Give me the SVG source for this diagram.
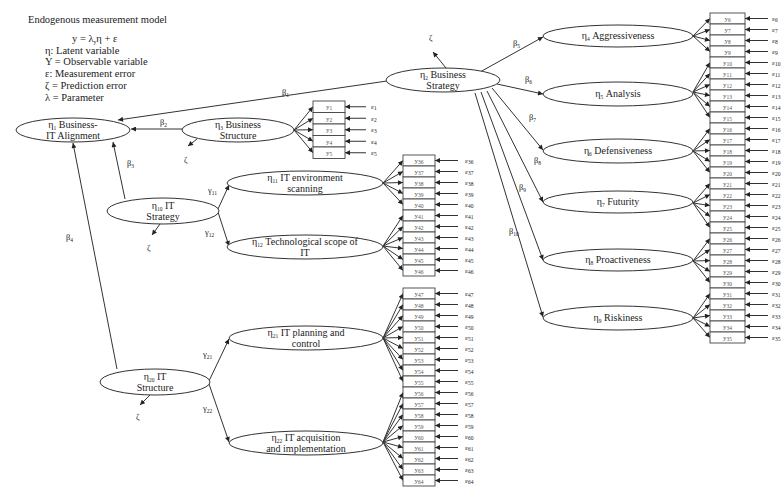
<svg xmlns="http://www.w3.org/2000/svg" width="784" height="496" viewBox="0 0 784 496">
<defs>
<marker id="a" viewBox="0 0 10 10" refX="10" refY="5" markerWidth="6" markerHeight="5" markerUnits="userSpaceOnUse" orient="auto"><path d="M0,0 L10,5 L0,10 z" fill="#222"/></marker>
<style>
text{font-family:"Liberation Serif",serif;fill:#222}
.n{font-size:10px;text-anchor:middle}
.el{fill:#fff;stroke:#333;stroke-width:1}
.bx rect{fill:#fff;stroke:#444;stroke-width:.9}
.bx text{font-size:7px;text-anchor:middle;fill:#555}
.s{font-size:5.5px}
.cn line{stroke:#333;stroke-width:1;marker-end:url(#a)}
.lb{font-size:8.5px}
.er{font-size:7px;fill:#444}
.lg{font-size:10.5px}
</style>
</defs>
<rect width="784" height="496" fill="#fff"/>
<g id="legend">
<text class="lg" x="28" y="23" textLength="139">Endogenous measurement model</text>
<text class="lg" x="72" y="42">y = λ<tspan class="s" dy="2">y</tspan><tspan dy="-2">η + ε</tspan></text>
<text class="lg" x="45" y="54">η: Latent variable</text>
<text class="lg" x="45" y="65">Y = Observable variable</text>
<text class="lg" x="45" y="77">ε: Measurement error</text>
<text class="lg" x="45" y="89">ζ = Prediction error</text>
<text class="lg" x="45" y="101">λ = Parameter</text>
</g>
<g id="connectors" class="cn">
<line x1="387" y1="81" x2="118" y2="120"/>
<line x1="182" y1="129" x2="131" y2="129"/>
<line x1="125" y1="199" x2="113" y2="142"/>
<line x1="117" y1="369" x2="73" y2="143"/>
<line x1="446" y1="68" x2="433" y2="52"/>
<line x1="197" y1="139" x2="188" y2="146"/>
<line x1="160" y1="224" x2="152" y2="235"/>
<line x1="150" y1="395" x2="140" y2="405"/>
<line x1="480" y1="72" x2="543" y2="37"/>
<line x1="497" y1="84" x2="543" y2="94"/>
<line x1="492" y1="88" x2="543" y2="150"/>
<line x1="487" y1="91" x2="543" y2="202"/>
<line x1="481" y1="92" x2="543" y2="260"/>
<line x1="475" y1="93" x2="543" y2="317"/>
<line x1="218" y1="209" x2="229" y2="185"/>
<line x1="218" y1="212" x2="229" y2="246"/>
<line x1="209" y1="381" x2="229" y2="339"/>
<line x1="209" y1="384" x2="229" y2="442"/>
<line x1="294" y1="130" x2="313" y2="106.75"/>
<line x1="294" y1="130" x2="313" y2="118.25"/>
<line x1="294" y1="130" x2="313" y2="129.75"/>
<line x1="294" y1="130" x2="313" y2="141.25"/>
<line x1="294" y1="130" x2="313" y2="152.75"/>
<line x1="693" y1="36" x2="710" y2="18.5"/>
<line x1="693" y1="36" x2="710" y2="29.5"/>
<line x1="693" y1="36" x2="710" y2="40.5"/>
<line x1="693" y1="36" x2="710" y2="51.5"/>
<line x1="693" y1="92" x2="710" y2="62.5"/>
<line x1="693" y1="92" x2="710" y2="73.5"/>
<line x1="693" y1="92" x2="710" y2="84.5"/>
<line x1="693" y1="92" x2="710" y2="95.5"/>
<line x1="693" y1="92" x2="710" y2="106.5"/>
<line x1="693" y1="92" x2="710" y2="117.5"/>
<line x1="693" y1="151" x2="710" y2="128.5"/>
<line x1="693" y1="151" x2="710" y2="139.5"/>
<line x1="693" y1="151" x2="710" y2="150.5"/>
<line x1="693" y1="151" x2="710" y2="161.5"/>
<line x1="693" y1="151" x2="710" y2="172.5"/>
<line x1="693" y1="203" x2="710" y2="183.5"/>
<line x1="693" y1="203" x2="710" y2="194.5"/>
<line x1="693" y1="203" x2="710" y2="205.5"/>
<line x1="693" y1="203" x2="710" y2="216.5"/>
<line x1="693" y1="203" x2="710" y2="227.5"/>
<line x1="693" y1="261" x2="710" y2="238.5"/>
<line x1="693" y1="261" x2="710" y2="249.5"/>
<line x1="693" y1="261" x2="710" y2="260.5"/>
<line x1="693" y1="261" x2="710" y2="271.5"/>
<line x1="693" y1="261" x2="710" y2="282.5"/>
<line x1="693" y1="318" x2="710" y2="293.5"/>
<line x1="693" y1="318" x2="710" y2="304.5"/>
<line x1="693" y1="318" x2="710" y2="315.5"/>
<line x1="693" y1="318" x2="710" y2="326.5"/>
<line x1="693" y1="318" x2="710" y2="337.5"/>
<line x1="383" y1="183" x2="403" y2="160.5"/>
<line x1="383" y1="183" x2="403" y2="171.5"/>
<line x1="383" y1="183" x2="403" y2="182.5"/>
<line x1="383" y1="183" x2="403" y2="193.5"/>
<line x1="383" y1="183" x2="403" y2="204.5"/>
<line x1="383" y1="246" x2="403" y2="215.5"/>
<line x1="383" y1="246" x2="403" y2="226.5"/>
<line x1="383" y1="246" x2="403" y2="237.5"/>
<line x1="383" y1="246" x2="403" y2="248.5"/>
<line x1="383" y1="246" x2="403" y2="259.5"/>
<line x1="383" y1="246" x2="403" y2="270.5"/>
<line x1="383" y1="338" x2="403" y2="293.5"/>
<line x1="383" y1="338" x2="403" y2="304.5"/>
<line x1="383" y1="338" x2="403" y2="315.5"/>
<line x1="383" y1="338" x2="403" y2="326.5"/>
<line x1="383" y1="338" x2="403" y2="337.5"/>
<line x1="383" y1="338" x2="403" y2="348.5"/>
<line x1="383" y1="338" x2="403" y2="359.5"/>
<line x1="383" y1="338" x2="403" y2="370.5"/>
<line x1="383" y1="338" x2="403" y2="381.5"/>
<line x1="383" y1="442" x2="403" y2="392.5"/>
<line x1="383" y1="442" x2="403" y2="403.5"/>
<line x1="383" y1="442" x2="403" y2="414.5"/>
<line x1="383" y1="442" x2="403" y2="425.5"/>
<line x1="383" y1="442" x2="403" y2="436.5"/>
<line x1="383" y1="442" x2="403" y2="447.5"/>
<line x1="383" y1="442" x2="403" y2="458.5"/>
<line x1="383" y1="442" x2="403" y2="469.5"/>
<line x1="383" y1="442" x2="403" y2="480.5"/>
<line x1="366" y1="106.75" x2="345" y2="106.75"/>
<line x1="366" y1="118.25" x2="345" y2="118.25"/>
<line x1="366" y1="129.75" x2="345" y2="129.75"/>
<line x1="366" y1="141.25" x2="345" y2="141.25"/>
<line x1="366" y1="152.75" x2="345" y2="152.75"/>
<line x1="768" y1="18.5" x2="745" y2="18.5"/>
<line x1="768" y1="29.5" x2="745" y2="29.5"/>
<line x1="768" y1="40.5" x2="745" y2="40.5"/>
<line x1="768" y1="51.5" x2="745" y2="51.5"/>
<line x1="768" y1="62.5" x2="745" y2="62.5"/>
<line x1="768" y1="73.5" x2="745" y2="73.5"/>
<line x1="768" y1="84.5" x2="745" y2="84.5"/>
<line x1="768" y1="95.5" x2="745" y2="95.5"/>
<line x1="768" y1="106.5" x2="745" y2="106.5"/>
<line x1="768" y1="117.5" x2="745" y2="117.5"/>
<line x1="768" y1="128.5" x2="745" y2="128.5"/>
<line x1="768" y1="139.5" x2="745" y2="139.5"/>
<line x1="768" y1="150.5" x2="745" y2="150.5"/>
<line x1="768" y1="161.5" x2="745" y2="161.5"/>
<line x1="768" y1="172.5" x2="745" y2="172.5"/>
<line x1="768" y1="183.5" x2="745" y2="183.5"/>
<line x1="768" y1="194.5" x2="745" y2="194.5"/>
<line x1="768" y1="205.5" x2="745" y2="205.5"/>
<line x1="768" y1="216.5" x2="745" y2="216.5"/>
<line x1="768" y1="227.5" x2="745" y2="227.5"/>
<line x1="768" y1="238.5" x2="745" y2="238.5"/>
<line x1="768" y1="249.5" x2="745" y2="249.5"/>
<line x1="768" y1="260.5" x2="745" y2="260.5"/>
<line x1="768" y1="271.5" x2="745" y2="271.5"/>
<line x1="768" y1="282.5" x2="745" y2="282.5"/>
<line x1="768" y1="293.5" x2="745" y2="293.5"/>
<line x1="768" y1="304.5" x2="745" y2="304.5"/>
<line x1="768" y1="315.5" x2="745" y2="315.5"/>
<line x1="768" y1="326.5" x2="745" y2="326.5"/>
<line x1="768" y1="337.5" x2="745" y2="337.5"/>
<line x1="458" y1="160.5" x2="435" y2="160.5"/>
<line x1="458" y1="171.5" x2="435" y2="171.5"/>
<line x1="458" y1="182.5" x2="435" y2="182.5"/>
<line x1="458" y1="193.5" x2="435" y2="193.5"/>
<line x1="458" y1="204.5" x2="435" y2="204.5"/>
<line x1="458" y1="215.5" x2="435" y2="215.5"/>
<line x1="458" y1="226.5" x2="435" y2="226.5"/>
<line x1="458" y1="237.5" x2="435" y2="237.5"/>
<line x1="458" y1="248.5" x2="435" y2="248.5"/>
<line x1="458" y1="259.5" x2="435" y2="259.5"/>
<line x1="458" y1="270.5" x2="435" y2="270.5"/>
<line x1="458" y1="293.5" x2="435" y2="293.5"/>
<line x1="458" y1="304.5" x2="435" y2="304.5"/>
<line x1="458" y1="315.5" x2="435" y2="315.5"/>
<line x1="458" y1="326.5" x2="435" y2="326.5"/>
<line x1="458" y1="337.5" x2="435" y2="337.5"/>
<line x1="458" y1="348.5" x2="435" y2="348.5"/>
<line x1="458" y1="359.5" x2="435" y2="359.5"/>
<line x1="458" y1="370.5" x2="435" y2="370.5"/>
<line x1="458" y1="381.5" x2="435" y2="381.5"/>
<line x1="458" y1="392.5" x2="435" y2="392.5"/>
<line x1="458" y1="403.5" x2="435" y2="403.5"/>
<line x1="458" y1="414.5" x2="435" y2="414.5"/>
<line x1="458" y1="425.5" x2="435" y2="425.5"/>
<line x1="458" y1="436.5" x2="435" y2="436.5"/>
<line x1="458" y1="447.5" x2="435" y2="447.5"/>
<line x1="458" y1="458.5" x2="435" y2="458.5"/>
<line x1="458" y1="469.5" x2="435" y2="469.5"/>
<line x1="458" y1="480.5" x2="435" y2="480.5"/>
</g>
<g id="connector-labels" class="lb">
<text x="282" y="95">β<tspan class="s" dy="2">1</tspan></text>
<text x="160" y="125">β<tspan class="s" dy="2">2</tspan></text>
<text x="127" y="166">β<tspan class="s" dy="2">3</tspan></text>
<text x="66" y="240">β<tspan class="s" dy="2">4</tspan></text>
<text x="429" y="41">ζ</text>
<text x="184" y="163">ζ</text>
<text x="147" y="251">ζ</text>
<text x="136" y="420">ζ</text>
<text x="513" y="46">β<tspan class="s" dy="2">5</tspan></text>
<text x="525" y="82">β<tspan class="s" dy="2">6</tspan></text>
<text x="529" y="120">β<tspan class="s" dy="2">7</tspan></text>
<text x="534" y="163">β<tspan class="s" dy="2">8</tspan></text>
<text x="519" y="190">β<tspan class="s" dy="2">9</tspan></text>
<text x="509" y="234">β<tspan class="s" dy="2">10</tspan></text>
<text x="208" y="193">γ<tspan class="s" dy="2">11</tspan></text>
<text x="205" y="235">γ<tspan class="s" dy="2">12</tspan></text>
<text x="203" y="357">γ<tspan class="s" dy="2">21</tspan></text>
<text x="203" y="411">γ<tspan class="s" dy="2">22</tspan></text>
</g>
<g id="n1"><ellipse class="el" cx="73" cy="130" rx="57" ry="12"/><text class="n" x="73" y="128">η<tspan class="s" dy="2">1</tspan><tspan dy="-2"> Business-</tspan></text><text class="n" x="73" y="139">IT Alignment</text></g>
<g id="n2"><ellipse class="el" cx="443" cy="80" rx="57" ry="12"/><text class="n" x="443" y="78">η<tspan class="s" dy="2">2</tspan><tspan dy="-2"> Business</tspan></text><text class="n" x="443" y="89">Strategy</text></g>
<g id="n3"><ellipse class="el" cx="238" cy="130" rx="56" ry="12"/><text class="n" x="238" y="128">η<tspan class="s" dy="2">3</tspan><tspan dy="-2"> Business</tspan></text><text class="n" x="238" y="139">Structure</text></g>
<g id="n4"><ellipse class="el" cx="618" cy="36" rx="75" ry="11"/><text class="n" x="618" y="39">η<tspan class="s" dy="2">4</tspan><tspan dy="-2"> Aggressiveness</tspan></text></g>
<g id="n5"><ellipse class="el" cx="618" cy="94" rx="75" ry="12"/><text class="n" x="618" y="97">η<tspan class="s" dy="2">5</tspan><tspan dy="-2"> Analysis</tspan></text></g>
<g id="n6"><ellipse class="el" cx="618" cy="151" rx="75" ry="12"/><text class="n" x="618" y="154">η<tspan class="s" dy="2">6</tspan><tspan dy="-2"> Defensiveness</tspan></text></g>
<g id="n7"><ellipse class="el" cx="618" cy="202" rx="75" ry="11"/><text class="n" x="618" y="205">η<tspan class="s" dy="2">7</tspan><tspan dy="-2"> Futurity</tspan></text></g>
<g id="n8"><ellipse class="el" cx="618" cy="260" rx="75" ry="11"/><text class="n" x="618" y="263">η<tspan class="s" dy="2">8</tspan><tspan dy="-2"> Proactiveness</tspan></text></g>
<g id="n9"><ellipse class="el" cx="618" cy="318" rx="75" ry="12"/><text class="n" x="618" y="321">η<tspan class="s" dy="2">9</tspan><tspan dy="-2"> Riskiness</tspan></text></g>
<g id="n10"><ellipse class="el" cx="163" cy="211" rx="56" ry="13"/><text class="n" x="163" y="209">η<tspan class="s" dy="2">10</tspan><tspan dy="-2"> IT</tspan></text><text class="n" x="163" y="220">Strategy</text></g>
<g id="n11"><ellipse class="el" cx="305" cy="183" rx="78" ry="12"/><text class="n" x="305" y="181">η<tspan class="s" dy="2">11</tspan><tspan dy="-2"> IT environment</tspan></text><text class="n" x="305" y="192">scanning</text></g>
<g id="n12"><ellipse class="el" cx="305" cy="247" rx="78" ry="12"/><text class="n" x="305" y="245">η<tspan class="s" dy="2">12</tspan><tspan dy="-2"> Technological scope of</tspan></text><text class="n" x="305" y="256">IT</text></g>
<g id="n20"><ellipse class="el" cx="155" cy="382" rx="55" ry="13"/><text class="n" x="155" y="380">η<tspan class="s" dy="2">20</tspan><tspan dy="-2"> IT</tspan></text><text class="n" x="155" y="391">Structure</text></g>
<g id="n21"><ellipse class="el" cx="306" cy="338" rx="77" ry="12"/><text class="n" x="306" y="336">η<tspan class="s" dy="2">21</tspan><tspan dy="-2"> IT planning and</tspan></text><text class="n" x="306" y="347">control</text></g>
<g id="n22"><ellipse class="el" cx="306" cy="443" rx="77" ry="12"/><text class="n" x="306" y="441">η<tspan class="s" dy="2">22</tspan><tspan dy="-2"> IT acquisition</tspan></text><text class="n" x="306" y="452">and implementation</text></g>
<g id="bs-indicators" class="bx">
<g id="y1"><rect x="313" y="101" width="32" height="11.5"/><text x="329" y="109">y<tspan class="s" dy="1">1</tspan></text></g>
<g id="y2"><rect x="313" y="112.5" width="32" height="11.5"/><text x="329" y="120.5">y<tspan class="s" dy="1">2</tspan></text></g>
<g id="y3"><rect x="313" y="124" width="32" height="11.5"/><text x="329" y="132">y<tspan class="s" dy="1">3</tspan></text></g>
<g id="y4"><rect x="313" y="135.5" width="32" height="11.5"/><text x="329" y="143.5">y<tspan class="s" dy="1">4</tspan></text></g>
<g id="y5"><rect x="313" y="147" width="32" height="11.5"/><text x="329" y="155">y<tspan class="s" dy="1">5</tspan></text></g>
</g>
<g id="right-indicators" class="bx">
<g id="y6"><rect x="710" y="13" width="35" height="11"/><text x="727.5" y="21">y<tspan class="s" dy="1">6</tspan></text></g>
<g id="y7"><rect x="710" y="24" width="35" height="11"/><text x="727.5" y="32">y<tspan class="s" dy="1">7</tspan></text></g>
<g id="y8"><rect x="710" y="35" width="35" height="11"/><text x="727.5" y="43">y<tspan class="s" dy="1">8</tspan></text></g>
<g id="y9"><rect x="710" y="46" width="35" height="11"/><text x="727.5" y="54">y<tspan class="s" dy="1">9</tspan></text></g>
<g id="y10"><rect x="710" y="57" width="35" height="11"/><text x="727.5" y="65">y<tspan class="s" dy="1">10</tspan></text></g>
<g id="y11"><rect x="710" y="68" width="35" height="11"/><text x="727.5" y="76">y<tspan class="s" dy="1">11</tspan></text></g>
<g id="y12"><rect x="710" y="79" width="35" height="11"/><text x="727.5" y="87">y<tspan class="s" dy="1">12</tspan></text></g>
<g id="y13"><rect x="710" y="90" width="35" height="11"/><text x="727.5" y="98">y<tspan class="s" dy="1">13</tspan></text></g>
<g id="y14"><rect x="710" y="101" width="35" height="11"/><text x="727.5" y="109">y<tspan class="s" dy="1">14</tspan></text></g>
<g id="y15"><rect x="710" y="112" width="35" height="11"/><text x="727.5" y="120">y<tspan class="s" dy="1">15</tspan></text></g>
<g id="y16"><rect x="710" y="123" width="35" height="11"/><text x="727.5" y="131">y<tspan class="s" dy="1">16</tspan></text></g>
<g id="y17"><rect x="710" y="134" width="35" height="11"/><text x="727.5" y="142">y<tspan class="s" dy="1">17</tspan></text></g>
<g id="y18"><rect x="710" y="145" width="35" height="11"/><text x="727.5" y="153">y<tspan class="s" dy="1">18</tspan></text></g>
<g id="y19"><rect x="710" y="156" width="35" height="11"/><text x="727.5" y="164">y<tspan class="s" dy="1">19</tspan></text></g>
<g id="y20"><rect x="710" y="167" width="35" height="11"/><text x="727.5" y="175">y<tspan class="s" dy="1">20</tspan></text></g>
<g id="y21"><rect x="710" y="178" width="35" height="11"/><text x="727.5" y="186">y<tspan class="s" dy="1">21</tspan></text></g>
<g id="y22"><rect x="710" y="189" width="35" height="11"/><text x="727.5" y="197">y<tspan class="s" dy="1">22</tspan></text></g>
<g id="y23"><rect x="710" y="200" width="35" height="11"/><text x="727.5" y="208">y<tspan class="s" dy="1">23</tspan></text></g>
<g id="y24"><rect x="710" y="211" width="35" height="11"/><text x="727.5" y="219">y<tspan class="s" dy="1">24</tspan></text></g>
<g id="y25"><rect x="710" y="222" width="35" height="11"/><text x="727.5" y="230">y<tspan class="s" dy="1">25</tspan></text></g>
<g id="y26"><rect x="710" y="233" width="35" height="11"/><text x="727.5" y="241">y<tspan class="s" dy="1">26</tspan></text></g>
<g id="y27"><rect x="710" y="244" width="35" height="11"/><text x="727.5" y="252">y<tspan class="s" dy="1">27</tspan></text></g>
<g id="y28"><rect x="710" y="255" width="35" height="11"/><text x="727.5" y="263">y<tspan class="s" dy="1">28</tspan></text></g>
<g id="y29"><rect x="710" y="266" width="35" height="11"/><text x="727.5" y="274">y<tspan class="s" dy="1">29</tspan></text></g>
<g id="y30"><rect x="710" y="277" width="35" height="11"/><text x="727.5" y="285">y<tspan class="s" dy="1">30</tspan></text></g>
<g id="y31"><rect x="710" y="288" width="35" height="11"/><text x="727.5" y="296">y<tspan class="s" dy="1">31</tspan></text></g>
<g id="y32"><rect x="710" y="299" width="35" height="11"/><text x="727.5" y="307">y<tspan class="s" dy="1">32</tspan></text></g>
<g id="y33"><rect x="710" y="310" width="35" height="11"/><text x="727.5" y="318">y<tspan class="s" dy="1">33</tspan></text></g>
<g id="y34"><rect x="710" y="321" width="35" height="11"/><text x="727.5" y="329">y<tspan class="s" dy="1">34</tspan></text></g>
<g id="y35"><rect x="710" y="332" width="35" height="11"/><text x="727.5" y="340">y<tspan class="s" dy="1">35</tspan></text></g>
</g>
<g id="middle-indicators" class="bx">
<g id="y36"><rect x="403" y="155" width="32" height="11"/><text x="419" y="163">y<tspan class="s" dy="1">36</tspan></text></g>
<g id="y37"><rect x="403" y="166" width="32" height="11"/><text x="419" y="174">y<tspan class="s" dy="1">37</tspan></text></g>
<g id="y38"><rect x="403" y="177" width="32" height="11"/><text x="419" y="185">y<tspan class="s" dy="1">38</tspan></text></g>
<g id="y39"><rect x="403" y="188" width="32" height="11"/><text x="419" y="196">y<tspan class="s" dy="1">39</tspan></text></g>
<g id="y40"><rect x="403" y="199" width="32" height="11"/><text x="419" y="207">y<tspan class="s" dy="1">40</tspan></text></g>
<g id="y41"><rect x="403" y="210" width="32" height="11"/><text x="419" y="218">y<tspan class="s" dy="1">41</tspan></text></g>
<g id="y42"><rect x="403" y="221" width="32" height="11"/><text x="419" y="229">y<tspan class="s" dy="1">42</tspan></text></g>
<g id="y43"><rect x="403" y="232" width="32" height="11"/><text x="419" y="240">y<tspan class="s" dy="1">43</tspan></text></g>
<g id="y44"><rect x="403" y="243" width="32" height="11"/><text x="419" y="251">y<tspan class="s" dy="1">44</tspan></text></g>
<g id="y45"><rect x="403" y="254" width="32" height="11"/><text x="419" y="262">y<tspan class="s" dy="1">45</tspan></text></g>
<g id="y46"><rect x="403" y="265" width="32" height="11"/><text x="419" y="273">y<tspan class="s" dy="1">46</tspan></text></g>
<g id="y47"><rect x="403" y="288" width="32" height="11"/><text x="419" y="296">y<tspan class="s" dy="1">47</tspan></text></g>
<g id="y48"><rect x="403" y="299" width="32" height="11"/><text x="419" y="307">y<tspan class="s" dy="1">48</tspan></text></g>
<g id="y49"><rect x="403" y="310" width="32" height="11"/><text x="419" y="318">y<tspan class="s" dy="1">49</tspan></text></g>
<g id="y50"><rect x="403" y="321" width="32" height="11"/><text x="419" y="329">y<tspan class="s" dy="1">50</tspan></text></g>
<g id="y51"><rect x="403" y="332" width="32" height="11"/><text x="419" y="340">y<tspan class="s" dy="1">51</tspan></text></g>
<g id="y52"><rect x="403" y="343" width="32" height="11"/><text x="419" y="351">y<tspan class="s" dy="1">52</tspan></text></g>
<g id="y53"><rect x="403" y="354" width="32" height="11"/><text x="419" y="362">y<tspan class="s" dy="1">53</tspan></text></g>
<g id="y54"><rect x="403" y="365" width="32" height="11"/><text x="419" y="373">y<tspan class="s" dy="1">54</tspan></text></g>
<g id="y55"><rect x="403" y="376" width="32" height="11"/><text x="419" y="384">y<tspan class="s" dy="1">55</tspan></text></g>
<g id="y56"><rect x="403" y="387" width="32" height="11"/><text x="419" y="395">y<tspan class="s" dy="1">56</tspan></text></g>
<g id="y57"><rect x="403" y="398" width="32" height="11"/><text x="419" y="406">y<tspan class="s" dy="1">57</tspan></text></g>
<g id="y58"><rect x="403" y="409" width="32" height="11"/><text x="419" y="417">y<tspan class="s" dy="1">58</tspan></text></g>
<g id="y59"><rect x="403" y="420" width="32" height="11"/><text x="419" y="428">y<tspan class="s" dy="1">59</tspan></text></g>
<g id="y60"><rect x="403" y="431" width="32" height="11"/><text x="419" y="439">y<tspan class="s" dy="1">60</tspan></text></g>
<g id="y61"><rect x="403" y="442" width="32" height="11"/><text x="419" y="450">y<tspan class="s" dy="1">61</tspan></text></g>
<g id="y62"><rect x="403" y="453" width="32" height="11"/><text x="419" y="461">y<tspan class="s" dy="1">62</tspan></text></g>
<g id="y63"><rect x="403" y="464" width="32" height="11"/><text x="419" y="472">y<tspan class="s" dy="1">63</tspan></text></g>
<g id="y64"><rect x="403" y="475" width="32" height="11"/><text x="419" y="483">y<tspan class="s" dy="1">64</tspan></text></g>
</g>
<g id="error-labels" class="er">
<text x="371" y="109">ε<tspan class="s" dy="1">1</tspan></text>
<text x="371" y="120.5">ε<tspan class="s" dy="1">2</tspan></text>
<text x="371" y="132">ε<tspan class="s" dy="1">3</tspan></text>
<text x="371" y="143.5">ε<tspan class="s" dy="1">4</tspan></text>
<text x="371" y="155">ε<tspan class="s" dy="1">5</tspan></text>
<text x="772" y="21">ε<tspan class="s" dy="1">6</tspan></text>
<text x="772" y="32">ε<tspan class="s" dy="1">7</tspan></text>
<text x="772" y="43">ε<tspan class="s" dy="1">8</tspan></text>
<text x="772" y="54">ε<tspan class="s" dy="1">9</tspan></text>
<text x="772" y="65">ε<tspan class="s" dy="1">10</tspan></text>
<text x="772" y="76">ε<tspan class="s" dy="1">11</tspan></text>
<text x="772" y="87">ε<tspan class="s" dy="1">12</tspan></text>
<text x="772" y="98">ε<tspan class="s" dy="1">13</tspan></text>
<text x="772" y="109">ε<tspan class="s" dy="1">14</tspan></text>
<text x="772" y="120">ε<tspan class="s" dy="1">15</tspan></text>
<text x="772" y="131">ε<tspan class="s" dy="1">16</tspan></text>
<text x="772" y="142">ε<tspan class="s" dy="1">17</tspan></text>
<text x="772" y="153">ε<tspan class="s" dy="1">18</tspan></text>
<text x="772" y="164">ε<tspan class="s" dy="1">19</tspan></text>
<text x="772" y="175">ε<tspan class="s" dy="1">20</tspan></text>
<text x="772" y="186">ε<tspan class="s" dy="1">21</tspan></text>
<text x="772" y="197">ε<tspan class="s" dy="1">22</tspan></text>
<text x="772" y="208">ε<tspan class="s" dy="1">23</tspan></text>
<text x="772" y="219">ε<tspan class="s" dy="1">24</tspan></text>
<text x="772" y="230">ε<tspan class="s" dy="1">25</tspan></text>
<text x="772" y="241">ε<tspan class="s" dy="1">26</tspan></text>
<text x="772" y="252">ε<tspan class="s" dy="1">27</tspan></text>
<text x="772" y="263">ε<tspan class="s" dy="1">28</tspan></text>
<text x="772" y="274">ε<tspan class="s" dy="1">29</tspan></text>
<text x="772" y="285">ε<tspan class="s" dy="1">30</tspan></text>
<text x="772" y="296">ε<tspan class="s" dy="1">31</tspan></text>
<text x="772" y="307">ε<tspan class="s" dy="1">32</tspan></text>
<text x="772" y="318">ε<tspan class="s" dy="1">33</tspan></text>
<text x="772" y="329">ε<tspan class="s" dy="1">34</tspan></text>
<text x="772" y="340">ε<tspan class="s" dy="1">35</tspan></text>
<text x="465" y="163">ε<tspan class="s" dy="1">36</tspan></text>
<text x="465" y="174">ε<tspan class="s" dy="1">37</tspan></text>
<text x="465" y="185">ε<tspan class="s" dy="1">38</tspan></text>
<text x="465" y="196">ε<tspan class="s" dy="1">39</tspan></text>
<text x="465" y="207">ε<tspan class="s" dy="1">40</tspan></text>
<text x="465" y="218">ε<tspan class="s" dy="1">41</tspan></text>
<text x="465" y="229">ε<tspan class="s" dy="1">42</tspan></text>
<text x="465" y="240">ε<tspan class="s" dy="1">43</tspan></text>
<text x="465" y="251">ε<tspan class="s" dy="1">44</tspan></text>
<text x="465" y="262">ε<tspan class="s" dy="1">45</tspan></text>
<text x="465" y="273">ε<tspan class="s" dy="1">46</tspan></text>
<text x="465" y="296">ε<tspan class="s" dy="1">47</tspan></text>
<text x="465" y="307">ε<tspan class="s" dy="1">48</tspan></text>
<text x="465" y="318">ε<tspan class="s" dy="1">49</tspan></text>
<text x="465" y="329">ε<tspan class="s" dy="1">50</tspan></text>
<text x="465" y="340">ε<tspan class="s" dy="1">51</tspan></text>
<text x="465" y="351">ε<tspan class="s" dy="1">52</tspan></text>
<text x="465" y="362">ε<tspan class="s" dy="1">53</tspan></text>
<text x="465" y="373">ε<tspan class="s" dy="1">54</tspan></text>
<text x="465" y="384">ε<tspan class="s" dy="1">55</tspan></text>
<text x="465" y="395">ε<tspan class="s" dy="1">56</tspan></text>
<text x="465" y="406">ε<tspan class="s" dy="1">57</tspan></text>
<text x="465" y="417">ε<tspan class="s" dy="1">58</tspan></text>
<text x="465" y="428">ε<tspan class="s" dy="1">59</tspan></text>
<text x="465" y="439">ε<tspan class="s" dy="1">60</tspan></text>
<text x="465" y="450">ε<tspan class="s" dy="1">61</tspan></text>
<text x="465" y="461">ε<tspan class="s" dy="1">62</tspan></text>
<text x="465" y="472">ε<tspan class="s" dy="1">63</tspan></text>
<text x="465" y="483">ε<tspan class="s" dy="1">64</tspan></text>
</g>
</svg>
